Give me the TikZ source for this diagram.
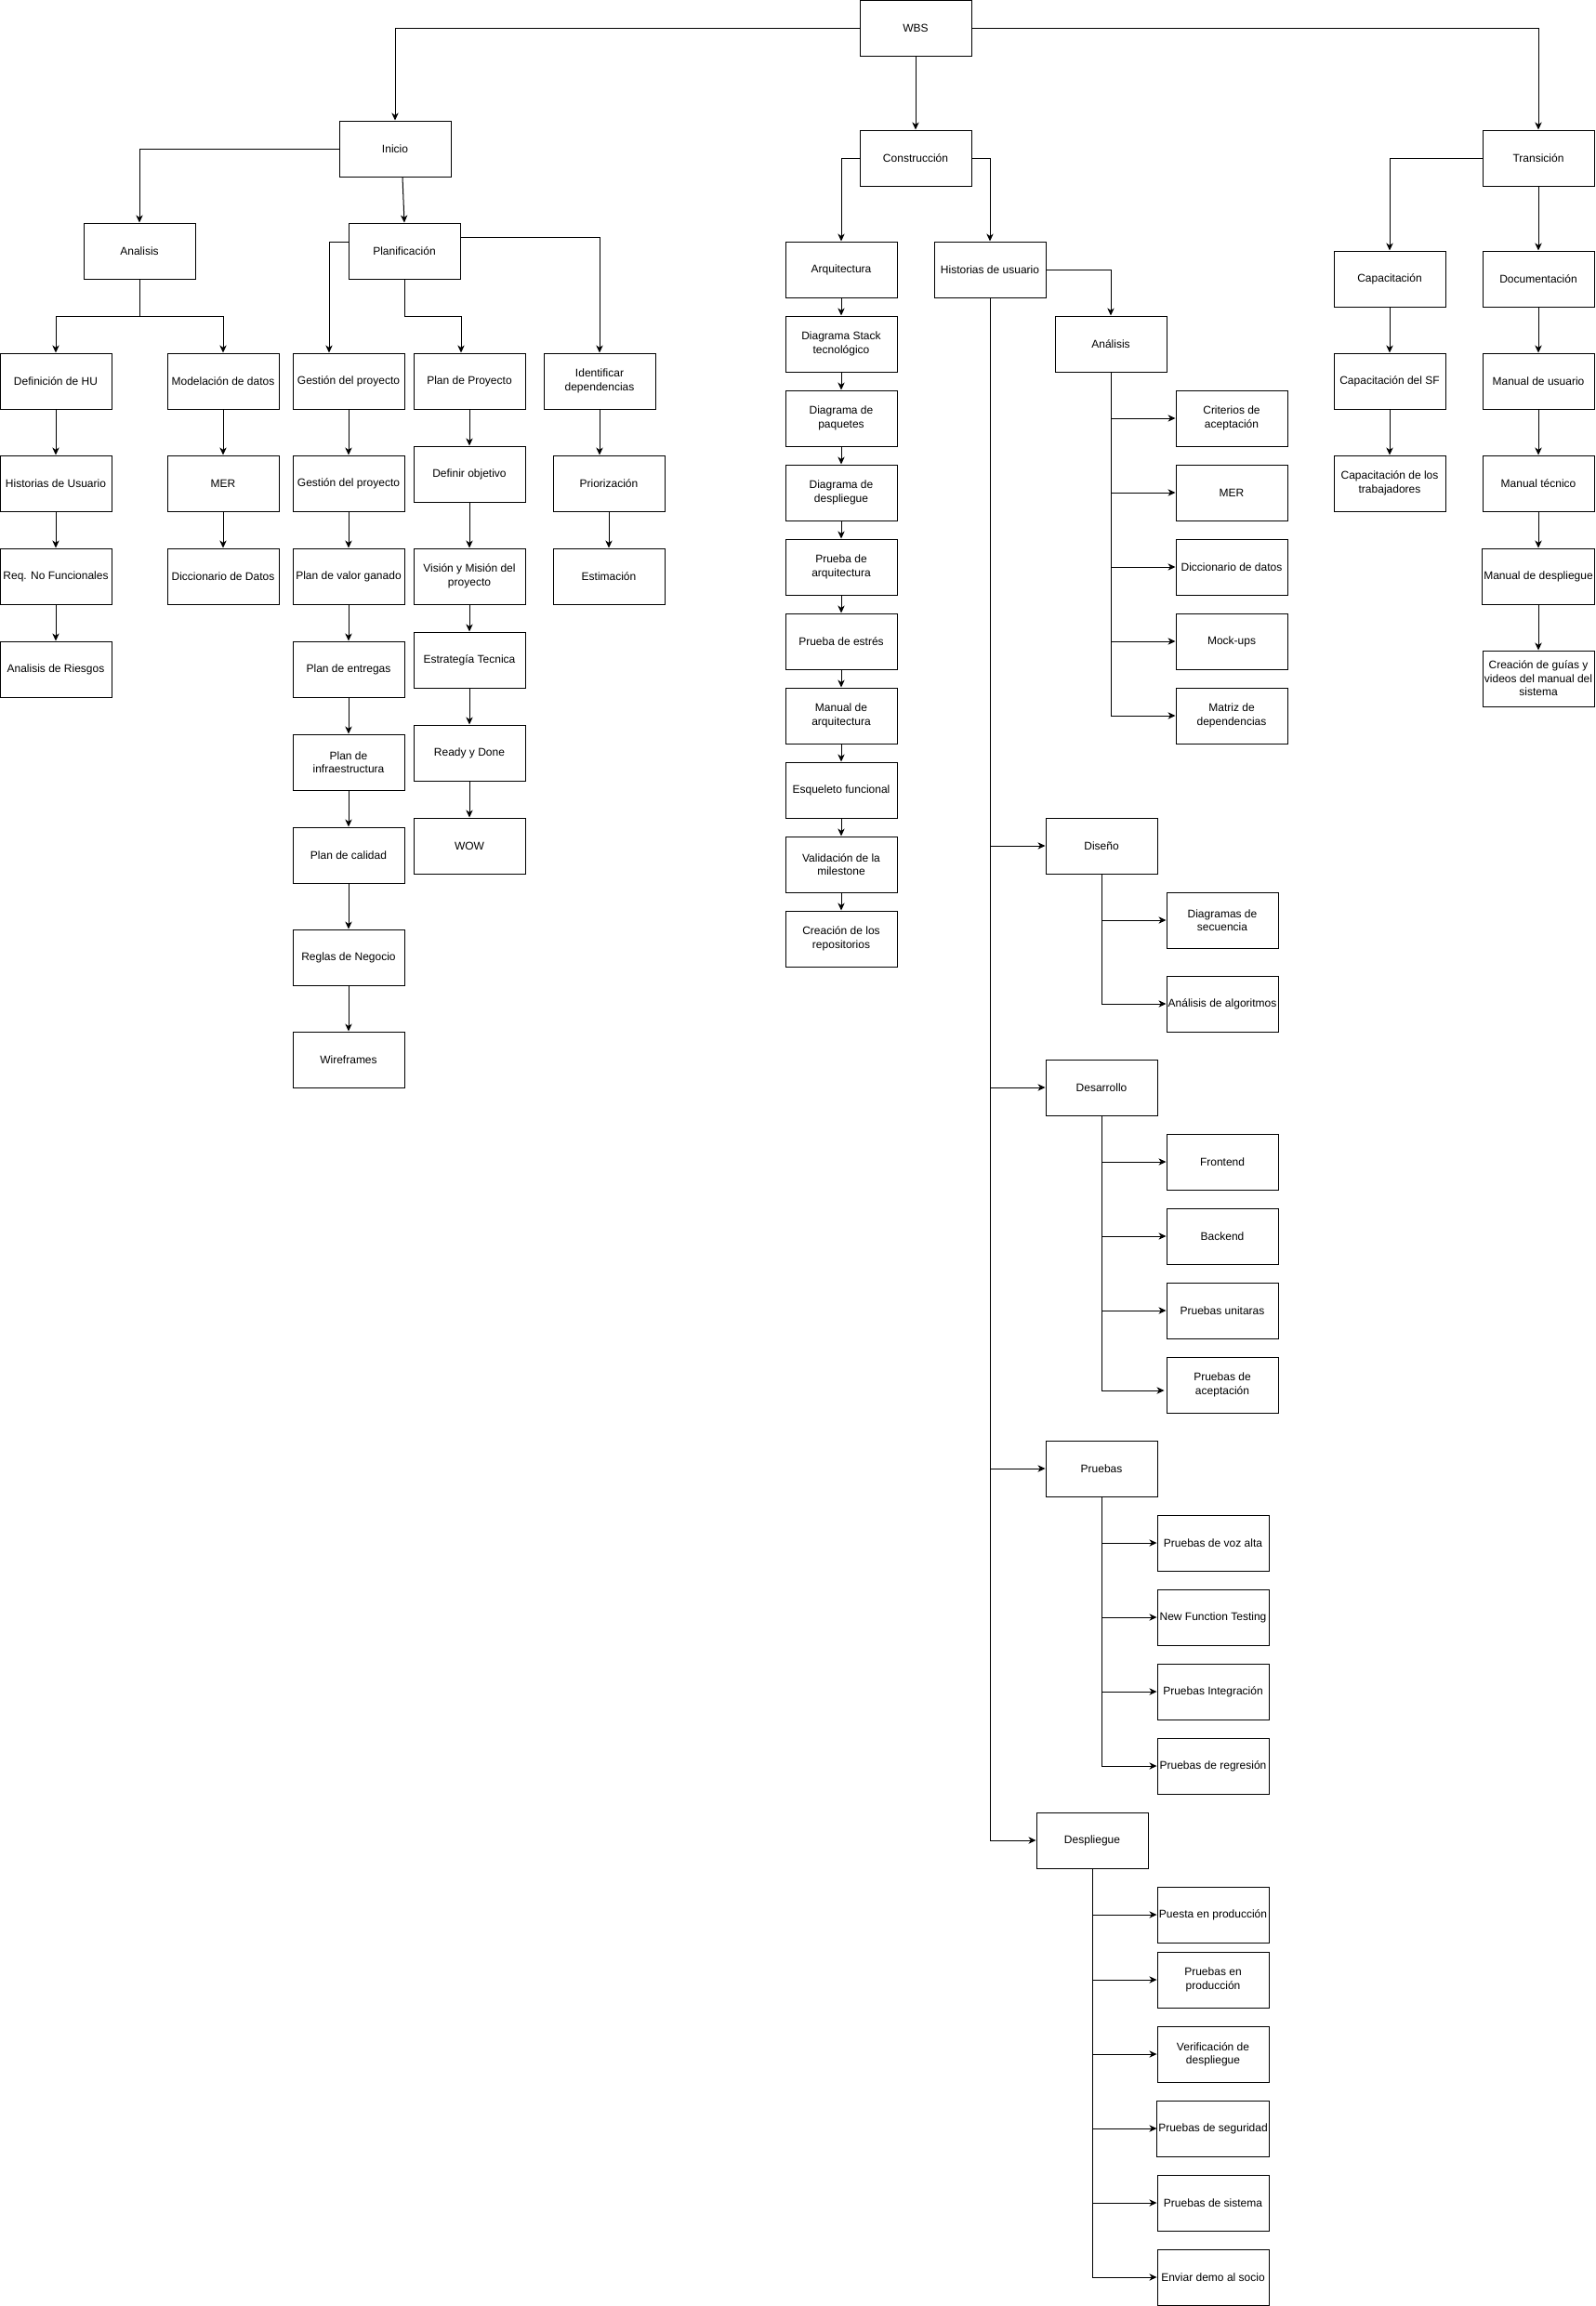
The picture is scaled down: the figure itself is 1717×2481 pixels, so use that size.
\documentclass[tikz,border=0pt]{standalone}
\usepackage{fontspec}
\setmainfont{Liberation Sans}
\usetikzlibrary{arrows.meta,calc}
\begin{document}
\begin{tikzpicture}[x=0.75pt,y=-0.75pt,
  box/.style={draw, line width=0.75pt, minimum width=90pt, minimum height=45pt, inner sep=1pt, align=center, font=\fontsize{9pt}{10.8pt}\selectfont},
  link/.style={draw, line width=0.75pt, -{Stealth[length=6pt,width=5.5pt,inset=1.8pt]}}]
\useasboundingbox (0,0) rectangle (1717,2481);
% ---------- top level
\node[box] (wbs) at (985,30) {WBS};
\node[box] (inicio) at (425,160) {Inicio};
\node[box] (constr) at (985,170) {Construcción};
\node[box] (trans) at (1655,170) {Transición};
% ---------- Inicio subtree
\node[box] (analisis) at (150,270) {Analisis};
\node[box] (planif) at (435,270) {Planificación};
\node[box] (defhu) at (60,410) {Definición de HU};
\node[box] (modelo) at (240,410) {Modelación de datos};
\node[box] (hu1) at (60,520) {Historias de Usuario};
\node[box] (mer1) at (240,520) {MER};
\node[box] (req) at (60,620) {Req. No Funcionales};
\node[box] (dicc1) at (240,620) {Diccionario de Datos};
\node[box] (riesgos) at (60,720) {Analisis de Riesgos};
\node[box] (gest1) at (375,410) {Gestión del proyecto};
\node[box] (gest2) at (375,520) {Gestión del proyecto};
\node[box] (valor) at (375,620) {Plan de valor ganado};
\node[box] (entregas) at (375,720) {Plan de entregas};
\node[box] (infra) at (375,820) {Plan de\\infraestructura};
\node[box] (calidad) at (375,920) {Plan de calidad};
\node[box] (reglas) at (375,1030) {Reglas de Negocio};
\node[box] (wire) at (375,1140) {Wireframes};
\node[box] (planp) at (505,410) {Plan de Proyecto};
\node[box] (objetivo) at (505,510) {Definir objetivo};
\node[box] (vision) at (505,620) {Visión y Misión del\\proyecto};
\node[box] (estrategia) at (505,710) {Estrategía Tecnica};
\node[box] (ready) at (505,810) {Ready y Done};
\node[box] (wow) at (505,910) {WOW};
\node[box] (ident) at (645,410) {Identificar\\dependencias};
\node[box] (prior) at (655,520) {Priorización};
\node[box] (estim) at (655,620) {Estimación};
% ---------- Construccion subtree
\node[box] (arq) at (905,290) {Arquitectura};
\node[box] (stack) at (905,370) {Diagrama Stack\\tecnológico};
\node[box] (paquetes) at (905,450) {Diagrama de\\paquetes};
\node[box] (despl) at (905,530) {Diagrama de\\despliegue};
\node[box] (prueba) at (905,610) {Prueba de\\arquitectura};
\node[box] (estres) at (905,690) {Prueba de estrés};
\node[box] (manarq) at (905,770) {Manual de\\arquitectura};
\node[box] (esqueleto) at (905,850) {Esqueleto funcional};
\node[box] (valid) at (905,930) {Validación de la\\milestone};
\node[box] (repos) at (905,1010) {Creación de los\\repositorios};
\node[box] (hist) at (1065,290) {Historias de usuario};
\node[box] (analisis2) at (1195,370) {Análisis};
\node[box] (criterios) at (1325,450) {Criterios de\\aceptación};
\node[box] (mer2) at (1325,530) {MER};
\node[box] (dicc2) at (1325,610) {Diccionario de datos};
\node[box] (mock) at (1325,690) {Mock-ups};
\node[box] (matriz) at (1325,770) {Matriz de\\dependencias};
\node[box] (diseno) at (1185,910) {Diseño};
\node[box] (secuencia) at (1315,990) {Diagramas de\\secuencia};
\node[box] (algoritmos) at (1315,1080) {Análisis de algoritmos};
\node[box] (desarrollo) at (1185,1170) {Desarrollo};
\node[box] (frontend) at (1315,1250) {Frontend};
\node[box] (backend) at (1315,1330) {Backend};
\node[box] (unitarias) at (1315,1410) {Pruebas unitaras};
\node[box] (aceptacion) at (1315,1490) {Pruebas de\\aceptación};
\node[box] (pruebas) at (1185,1580) {Pruebas};
\node[box] (voz) at (1305,1660) {Pruebas de voz alta};
\node[box] (nft) at (1305,1740) {New Function Testing};
\node[box] (integ) at (1305,1820) {Pruebas Integración};
\node[box] (regres) at (1305,1900) {Pruebas de regresión};
\node[box] (despliegue) at (1175,1980) {Despliegue};
\node[box] (puesta) at (1305,2060) {Puesta en producción};
\node[box] (prodpr) at (1305,2130) {Pruebas en\\producción};
\node[box] (verif) at (1305,2210) {Verificación de\\despliegue};
\node[box] (segur) at (1305,2290) {Pruebas de seguridad};
\node[box] (sistema) at (1305,2370) {Pruebas de sistema};
\node[box] (demo) at (1305,2450) {Enviar demo al socio};
% ---------- Transicion subtree
\node[box] (capac) at (1495,300) {Capacitación};
\node[box] (doc) at (1655,300) {Documentación};
\node[box] (capsf) at (1495,410) {Capacitación del SF};
\node[box] (captrab) at (1495,520) {Capacitación de los\\trabajadores};
\node[box] (manusu) at (1655,410) {Manual de usuario};
\node[box] (mantec) at (1655,520) {Manual técnico};
\node[box] (mandesp) at (1655,620) {Manual de despliegue};
\node[box] (guias) at (1655,730) {Creación de guías y\\videos del manual del\\sistema};
% ---------- connectors: top
\draw[link] (wbs.west) -| (inicio.north);
\draw[link] (wbs.south) -- (constr.north);
\draw[link] (wbs.east) -| (trans.north);
% Inicio
\draw[link] (inicio.west) -| (analisis.north);
\draw[link] ($(inicio.south)+(8,0)$) -- (planif.north);
\draw[link] (analisis.south) -- ++(0,40) -| (defhu.north);
\draw[link] (analisis.south) -- ++(0,40) -| (modelo.north);
\draw[link] (defhu) -- (hu1);
\draw[link] (hu1) -- (req);
\draw[link] (req) -- (riesgos);
\draw[link] (modelo) -- (mer1);
\draw[link] (mer1) -- (dicc1);
\draw[link] ($(planif.west)+(0,-10)$) -| ($(gest1.north)+(-21,0)$);
\draw[link] (planif.south) -- ++(0,40) -| ($(planp.north)+(-9,0)$);
\draw[link] ($(planif.east)+(0,-15)$) -| (ident.north);
\draw[link] (gest1) -- (gest2);
\draw[link] (gest2) -- (valor);
\draw[link] (valor) -- (entregas);
\draw[link] (entregas) -- (infra);
\draw[link] (infra) -- (calidad);
\draw[link] (calidad) -- (reglas);
\draw[link] (reglas) -- (wire);
\draw[link] (planp) -- (objetivo);
\draw[link] (objetivo) -- (vision);
\draw[link] (vision) -- (estrategia);
\draw[link] (estrategia) -- (ready);
\draw[link] (ready) -- (wow);
\draw[link] (ident.south) -- ($(prior.north)+(-10,0)$);
\draw[link] (prior) -- (estim);
% Construccion
\draw[link] (constr.west) -| (arq.north);
\draw[link] (constr.east) -| (hist.north);
\draw[link] (arq) -- (stack);
\draw[link] (stack) -- (paquetes);
\draw[link] (paquetes) -- (despl);
\draw[link] (despl) -- (prueba);
\draw[link] (prueba) -- (estres);
\draw[link] (estres) -- (manarq);
\draw[link] (manarq) -- (esqueleto);
\draw[link] (esqueleto) -- (valid);
\draw[link] (valid) -- (repos);
\draw[link] (hist.east) -| (analisis2.north);
\draw[link] (analisis2.south) |- (criterios.west);
\draw[link] (analisis2.south) |- (mer2.west);
\draw[link] (analisis2.south) |- (dicc2.west);
\draw[link] (analisis2.south) |- (mock.west);
\draw[link] (analisis2.south) |- (matriz.west);
\draw[link] (hist.south) |- (diseno.west);
\draw[link] (hist.south) |- (desarrollo.west);
\draw[link] (hist.south) |- (pruebas.west);
\draw[link] (hist.south) |- (despliegue.west);
\draw[link] (diseno.south) |- (secuencia.west);
\draw[link] (diseno.south) |- (algoritmos.west);
\draw[link] (desarrollo.south) |- (frontend.west);
\draw[link] (desarrollo.south) |- (backend.west);
\draw[link] (desarrollo.south) |- (unitarias.west);
\draw[link] (desarrollo.south) |- ($(aceptacion.west)+(-2,6)$);
\draw[link] (pruebas.south) |- (voz.west);
\draw[link] (pruebas.south) |- (nft.west);
\draw[link] (pruebas.south) |- (integ.west);
\draw[link] (pruebas.south) |- (regres.west);
\draw[link] (despliegue.south) |- (puesta.west);
\draw[link] (despliegue.south) |- (prodpr.west);
\draw[link] (despliegue.south) |- (verif.west);
\draw[link] (despliegue.south) |- (segur.west);
\draw[link] (despliegue.south) |- (sistema.west);
\draw[link] (despliegue.south) |- (demo.west);
% Transicion
\draw[link] (trans.west) -| (capac.north);
\draw[link] (trans.south) -- (doc.north);
\draw[link] (capac) -- (capsf);
\draw[link] (capsf) -- (captrab);
\draw[link] (doc) -- (manusu);
\draw[link] (manusu) -- (mantec);
\draw[link] (mantec) -- (mandesp);
\draw[link] (mandesp) -- (guias);
\end{tikzpicture}
\end{document}
